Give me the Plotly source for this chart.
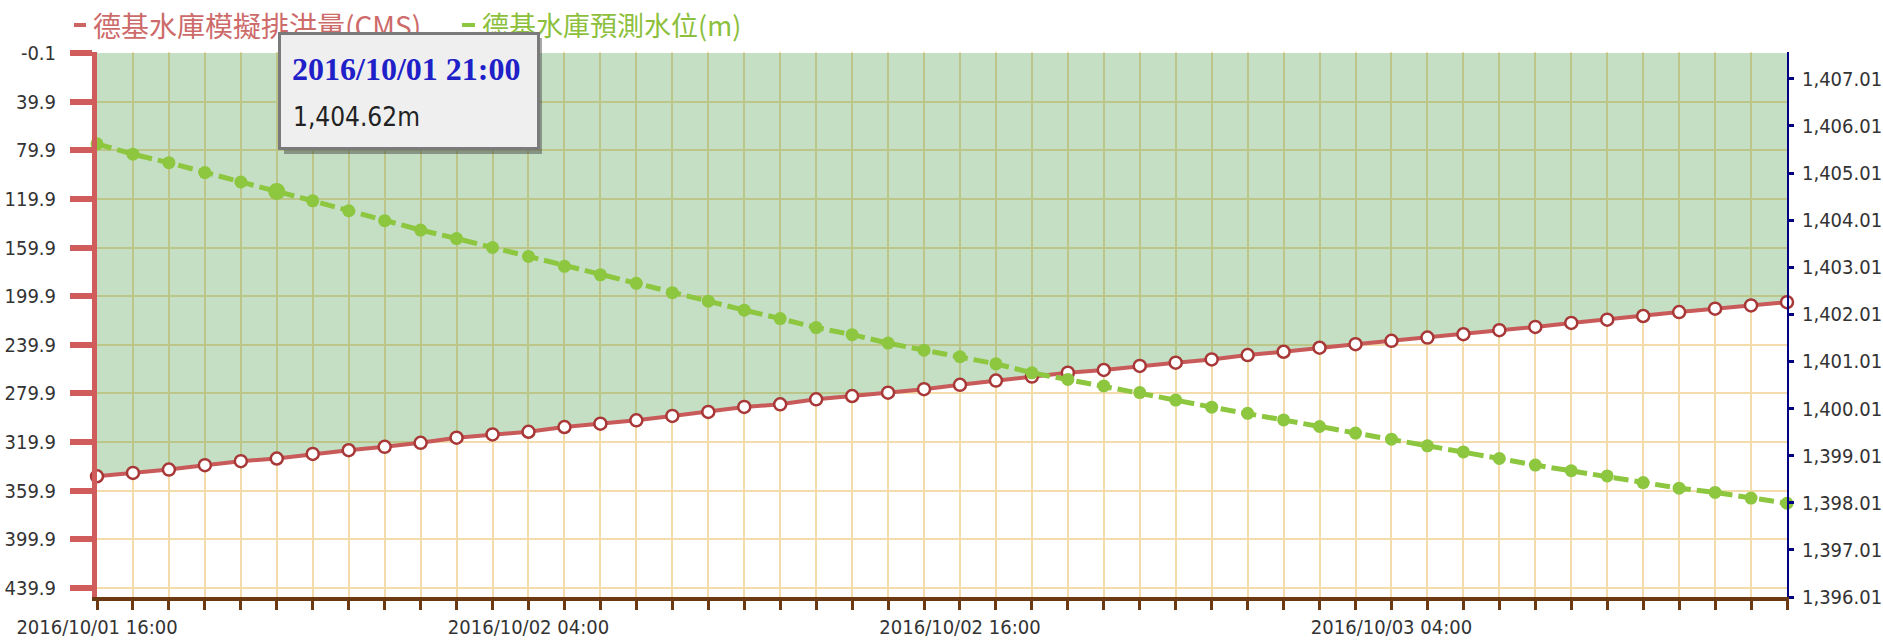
import pandas as pd
import plotly.graph_objects as go

# ---------------- data ----------------
start_time = "2016-10-01 16:00"
n_hours = 48
times = pd.date_range(start_time, periods=n_hours, freq="h")

outflow_cms = [348.0, 345.3, 342.5, 338.9, 335.6, 333.4, 329.6, 326.6, 323.8, 320.5,
               316.3, 313.6, 311.4, 307.5, 304.8, 302.0, 298.4, 295.1, 291.0, 288.8,
               284.7, 282.0, 279.3, 276.4, 272.8, 269.3, 266.0, 262.8, 260.6, 257.3,
               254.6, 251.9, 248.3, 245.6, 242.3, 239.4, 236.6, 233.9, 231.2, 227.9,
               225.2, 221.9, 219.2, 216.2, 213.0, 210.2, 207.5, 204.8]

water_level_m = [1405.63, 1405.41, 1405.23, 1405.02, 1404.82, 1404.62, 1404.42, 1404.21,
                 1404.00, 1403.80, 1403.62, 1403.43, 1403.24, 1403.03, 1402.85, 1402.67,
                 1402.47, 1402.29, 1402.10, 1401.92, 1401.73, 1401.58, 1401.40, 1401.25,
                 1401.11, 1400.96, 1400.77, 1400.63, 1400.49, 1400.35, 1400.19, 1400.04,
                 1399.91, 1399.77, 1399.63, 1399.49, 1399.36, 1399.22, 1399.09, 1398.95,
                 1398.81, 1398.69, 1398.58, 1398.44, 1398.32, 1398.23, 1398.11, 1398.00]

left_ticks = [-0.1, 39.9, 79.9, 119.9, 159.9, 199.9, 239.9, 279.9, 319.9, 359.9, 399.9, 439.9]
right_ticks = [1396.01, 1397.01, 1398.01, 1399.01, 1400.01, 1401.01, 1402.01,
               1403.01, 1404.01, 1405.01, 1406.01, 1407.01]

name_outflow = "德基水庫模擬排洪量(CMS)"
name_level = "德基水庫預測水位(m)"
hover_index = 5

# ---------------- layout geometry ----------------
W, H = 1883, 643
PL, PT, PR, PB = 97, 52, 1787, 597          # plot area in window pixels
PW, PH = PR - PL, PB - PT
L, T, R, B = PL, PT, W - PR, H - PB


def px(x):
    return (x - PL) / PW


def py(y):
    return (PB - y) / PH


RED = "#c85a5a"
RED_AXIS = "#d05c5c"
GREEN = "#8dc63f"
GRID = "#f3dcaa"
FONT = "DejaVu Sans Condensed, DejaVu Sans, sans-serif"

fig = go.Figure()

fig.add_trace(go.Scatter(
    x=times, y=outflow_cms, name=name_outflow, yaxis="y",
    mode="lines+markers", fill="tozeroy", fillcolor="rgba(60,150,60,0.30)",
    line=dict(color=RED, width=4),
    marker=dict(size=12, color="white", line=dict(color="#a83838", width=2.5)),
    cliponaxis=False, showlegend=False,
))

fig.add_trace(go.Scatter(
    x=times, y=water_level_m, name=name_level, yaxis="y2",
    mode="lines+markers",
    line=dict(color=GREEN, width=5, dash="15px,6px"),
    marker=dict(size=13, color=GREEN),
    cliponaxis=False, showlegend=False,
))

fig.add_trace(go.Scatter(
    x=[times[hover_index]], y=[water_level_m[hover_index]], yaxis="y2",
    mode="markers", marker=dict(size=17, color=GREEN),
    cliponaxis=False, showlegend=False, hoverinfo="skip",
))

# legend (drawn as dashes + text)
shapes = [
    dict(type="line", xref="paper", yref="paper", x0=px(74), x1=px(86), y0=py(25), y1=py(25),
         line=dict(color="#cd6464", width=4)),
    dict(type="line", xref="paper", yref="paper", x0=px(462), x1=px(475), y0=py(25), y1=py(25),
         line=dict(color=GREEN, width=4)),
]

annotations = [
    dict(text=name_outflow, xref="paper", yref="paper", x=px(91), y=py(25),
         xanchor="left", yanchor="middle", showarrow=False,
         font=dict(family="Noto Sans CJK TC", size=28, color="#cd6a6a")),
    dict(text=name_level, xref="paper", yref="paper", x=px(480), y=py(25),
         xanchor="left", yanchor="middle", showarrow=False,
         font=dict(family="Noto Sans CJK TC", size=27, color="#8cbf3c")),
    # tooltip shadow and box
    dict(text=" ", xref="paper", yref="paper", x=px(284), y=py(38),
         xanchor="left", yanchor="top", showarrow=False, width=258, height=116,
         bgcolor="rgba(60,60,60,0.45)", borderpad=0, borderwidth=0),
    dict(text=" ", xref="paper", yref="paper", x=px(278), y=py(32),
         xanchor="left", yanchor="top", showarrow=False, width=256, height=112,
         bgcolor="#efefef", bordercolor="#7a7a7a", borderwidth=3, borderpad=0),
    dict(text="<b>" + times[hover_index].strftime("%Y/%m/%d %H:%M") + "</b>",
         xref="paper", yref="paper", x=px(290), y=py(69),
         xanchor="left", yanchor="middle", showarrow=False,
         font=dict(family="Liberation Serif", size=32, color="#2020c8")),
    dict(text=f"{water_level_m[hover_index]:,.2f}m",
         xref="paper", yref="paper", x=px(291), y=py(117),
         xanchor="left", yanchor="middle", showarrow=False,
         font=dict(family=FONT, size=26, color="#222222")),
]

fig.update_layout(
    width=W, height=H,
    margin=dict(l=L, r=R, t=T, b=B, pad=0, autoexpand=False),
    paper_bgcolor="white", plot_bgcolor="white",
    showlegend=False,
    shapes=shapes, annotations=annotations,
    xaxis=dict(
        type="date", range=[times[0], times[-1]], automargin=False,
        tick0=start_time, dtick=12 * 3600000, tickformat="%Y/%m/%d %H:%M",
        ticks="outside", ticklen=9, tickwidth=3, tickcolor="#6b3a12",
        showline=True, linecolor="#6b3a12", linewidth=4,
        showgrid=True, gridcolor=GRID, gridwidth=1.5, zeroline=False,
        tickfont=dict(family=FONT, size=20, color="#333333"), ticklabelstandoff=0,
        minor=dict(dtick=3600000, ticks="outside", ticklen=9, tickwidth=3, tickcolor="#6b3a12",
                   showgrid=True, gridcolor=GRID, gridwidth=1.5),
    ),
    yaxis=dict(
        range=[447.3, -0.92], autorange=False, automargin=False,
        tickvals=left_ticks, ticktext=[f"{v:.1f}" for v in left_ticks],
        ticks="outside", ticklen=22, tickwidth=6, tickcolor=RED_AXIS,
        showline=True, linecolor=RED_AXIS, linewidth=5,
        showgrid=True, gridcolor=GRID, gridwidth=1.5, zeroline=False,
        tickfont=dict(family=FONT, size=20, color="#333333"), ticklabelstandoff=10,
    ),
    yaxis2=dict(
        overlaying="y", side="right", automargin=False,
        range=[1396.01, 1407.58], autorange=False,
        tickvals=right_ticks, tickformat=",.2f",
        ticks="outside", ticklen=5, tickwidth=3, tickcolor="#000080",
        showline=True, linecolor="#000080", linewidth=2,
        showgrid=False, zeroline=False,
        tickfont=dict(family=FONT, size=20, color="#333333"), ticklabelstandoff=4,
    ),
)

fig.write_html(
    "out.html",
    config={"displayModeBar": False},
    post_script="document.body.style.margin='0px';document.body.style.overflow='hidden';",
)
